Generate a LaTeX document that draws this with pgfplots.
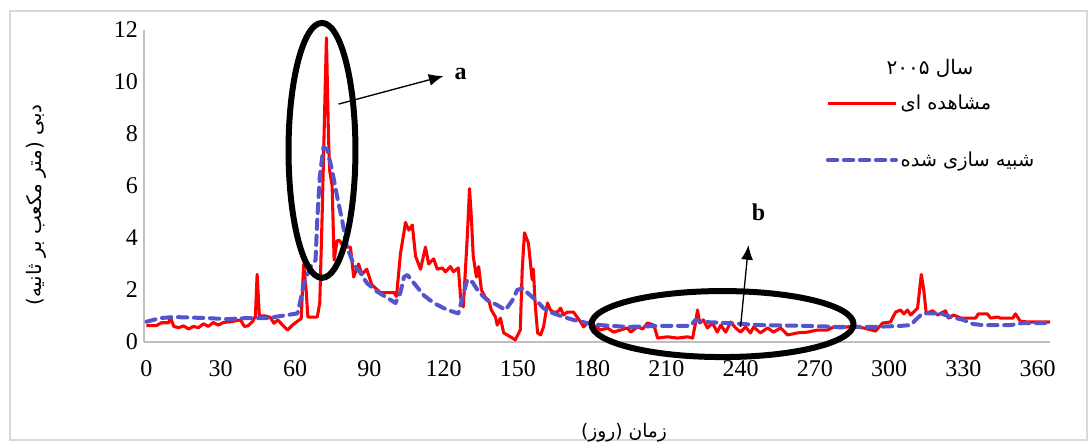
\documentclass[border=0pt]{standalone}
\usepackage{pgfplots}
\pgfplotsset{compat=1.18}
\usepackage{fontspec}
\setmainfont{Liberation Serif}
\newfontfamily\arabicfont[Script=Arabic]{DejaVu Sans}
\TeXXeTstate=1
\usetikzlibrary{arrows.meta}
\definecolor{obsred}{RGB}{255,0,0}
\definecolor{simblue}{RGB}{84,84,204}
\definecolor{axgray}{RGB}{191,191,191}
\definecolor{framegray}{RGB}{217,217,217}
\pgfplotstableread{
x y
0 0.63
4 0.63
6 0.74
9 0.74
9.7 0.96
11 0.6
13 0.55
15 0.62
17 0.5
19 0.6
21 0.55
23 0.7
25 0.6
27 0.75
29 0.65
31 0.75
34 0.78
38 0.85
39.5 0.6
41 0.62
43 0.8
44 1.0
44.7 2.6
45.6 1.0
48 1.0
50 0.95
51.5 0.72
53 0.85
55 0.65
57 0.46
59 0.65
61 0.8
62.5 0.9
63.5 3.0
64.5 2.0
65.2 0.96
69 0.96
70 1.5
71 5.0
72 9.0
72.7 11.7
73.5 8.0
74 6.6
75 6.0
75.8 3.15
77 3.9
78 3.9
79.7 3.65
82.4 3.65
83.7 2.5
85.7 3.0
87 2.6
89 2.8
91 2.2
94.5 1.9
100 1.9
101 1.75
102.6 3.4
104 4.2
104.6 4.6
106 4.3
107.4 4.5
108.7 3.3
110.7 2.8
112.7 3.65
114 3.0
116 3.2
117.5 2.8
119.5 2.85
120.8 2.7
122.8 2.9
124 2.7
126 2.85
126.9 1.7
128 1.35
129.6 4.05
130.5 5.9
131.3 4.7
132 3.3
133.3 2.5
134.2 2.9
135.3 2.0
137 1.7
138.3 1.6
139.3 1.23
141 0.96
141.7 0.65
143 0.92
144.3 0.35
147 0.2
149 0.08
151 0.46
151.8 2.8
152.7 4.2
154.3 3.8
155.8 2.4
156.3 2.8
157 1.5
158 0.35
159.2 0.27
160.4 0.58
162 1.5
163.2 1.23
164.4 1.15
166 1.15
167.3 1.3
168.5 1.04
170 1.15
172.5 1.15
175.4 0.77
176.6 0.58
178.6 0.77
180.6 0.65
183.4 0.46
186.2 0.54
188.7 0.38
191.5 0.46
194.3 0.54
195.6 0.38
198.4 0.58
200.4 0.5
202.4 0.73
205 0.65
206.5 0.15
210.5 0.2
214.5 0.15
218.6 0.2
220.6 0.15
221.8 0.73
222.6 1.23
223.5 0.73
225 0.85
226.6 0.54
228.6 0.73
230.6 0.38
232 0.65
234 0.38
236 0.77
238 0.54
240 0.38
242 0.58
244 0.35
245.3 0.58
248 0.35
250.9 0.54
253.3 0.38
256.2 0.54
259 0.27
263 0.35
267 0.38
271 0.46
275 0.46
277.6 0.58
280.4 0.54
284.4 0.6
289.7 0.54
294.5 0.42
297.4 0.73
300.6 0.77
302.6 1.15
304.6 1.23
306 1.08
307.4 1.23
308.7 1.04
311.5 1.3
313 2.6
314 2.0
315 1.1
317.6 1.2
319.6 1.04
322.8 1.2
324 0.92
326 1.04
329 0.92
335 0.92
336 1.08
339.7 1.08
341 0.92
343.8 0.96
345 0.92
350 0.92
351 1.08
353 0.8
356 0.77
365 0.77
}\obs
\pgfplotstableread{
x y
0 0.78
5.6 0.92
11 0.96
24.5 0.92
32.6 0.88
40.6 0.92
48.8 0.92
57 1.04
61 1.1
62.2 1.6
63.5 2.2
65 2.6
66.3 2.9
68.3 3.15
69 4.7
70 6.35
71.5 7.5
73 7.4
75 6.6
77 5.6
79 4.7
81 3.65
83.7 3.0
86.5 2.65
89 2.27
93.3 1.93
97.3 1.7
100.6 1.5
102.6 1.9
104 2.5
105.4 2.58
108 2.27
112 1.8
116 1.5
121.6 1.23
126 1.1
127.7 1.73
129.6 2.4
131.7 2.3
134.2 1.93
137.8 1.6
141.7 1.42
145 1.23
147.8 1.6
149.8 2.0
151.8 2.07
155 1.8
158 1.55
160.4 1.3
164.4 1.1
170 0.92
172.5 0.85
178 0.73
183.4 0.65
194.3 0.58
207.7 0.62
219.8 0.62
221.8 0.85
225 0.77
234.7 0.73
248 0.65
267 0.62
280 0.58
293.7 0.58
304.6 0.62
308.7 0.65
310.7 0.85
313.5 1.1
320.8 1.1
325 0.96
330 0.85
334 0.69
338 0.65
349 0.65
354 0.73
365 0.73
}\sim
\begin{document}
\begin{tikzpicture}
\useasboundingbox (-108pt,-75.75pt) rectangle (711pt,256.5pt);
\draw[framegray, line width=0.8pt] (-100.5pt,-73.5pt) rectangle (707.25pt,248.25pt);
\begin{axis}[
  at={(0,0)}, anchor=south west,
  scale only axis, width=679.5pt, height=234pt,
  xmin=-1, xmax=365, ymin=0, ymax=12,
  xtick={0,30,...,360}, ytick={0,2,...,12},
  axis x line*=bottom, axis y line*=left,
  axis line style={axgray, line width=1.2pt, -},
  major tick length=0pt,
  tick label style={font=\fontsize{18}{20}\selectfont, black},
  /pgf/number format/assume math mode=true,
  xticklabel style={yshift=-10pt},
  yticklabel style={xshift=-1pt},
  clip=false,
  legend style={draw=none, fill=none, at={(0.748,0.81)}, anchor=north west,
    font=\fontsize{14.5}{16}\selectfont\arabicfont, row sep=26pt,
    nodes={inner sep=2pt}},
  legend cell align=left,
  legend image code/.code={\draw[#1] (0pt,0pt) -- (51pt,0pt);},
]
\addplot[obsred, line width=2.3pt, line join=round] table {\obs};
\addlegendentry{\beginR مشاهده ای\endR}
\addplot[simblue, line width=3pt, dash pattern=on 7pt off 5pt, line cap=round, line join=round] table {\sim};
\addlegendentry{\beginR شبیه سازی شده\endR}
\draw[black, line width=4.5pt] (axis cs:70.9,7.37) ellipse [x radius=25.1pt, y radius=95.6pt];
\draw[black, line width=4.5pt] (axis cs:232.7,0.69) ellipse [x radius=98.25pt, y radius=24.75pt];
\draw[black, line width=1pt, -{Latex[length=11pt,width=9pt]}] (axis cs:77.6,9.15) -- (axis cs:120,10.23);
\draw[black, line width=1pt, -{Latex[length=11pt,width=9pt]}] (axis cs:240,0.58) -- (axis cs:243.2,3.73);
\node[font=\fontsize{18}{20}\selectfont\bfseries] at (axis cs:126.9,10.3) {a};
\node[font=\fontsize{18}{20}\selectfont\bfseries] at (axis cs:247.3,5.0) {b};
\end{axis}
\node[font=\fontsize{15}{17}\selectfont\arabicfont] at (589.5pt,205pt) {\beginR سال \beginL۲۰۰۵\endL\endR};
\node[font=\fontsize{15}{17}\selectfont\arabicfont, rotate=90] at (-81pt,102.75pt) {\beginR دبی (متر مکعب بر ثانیه)\endR};
\node[font=\fontsize{14}{16}\selectfont\arabicfont] at (360pt,-68.25pt) {\beginR زمان (روز)\endR};
\end{tikzpicture}
\end{document}
